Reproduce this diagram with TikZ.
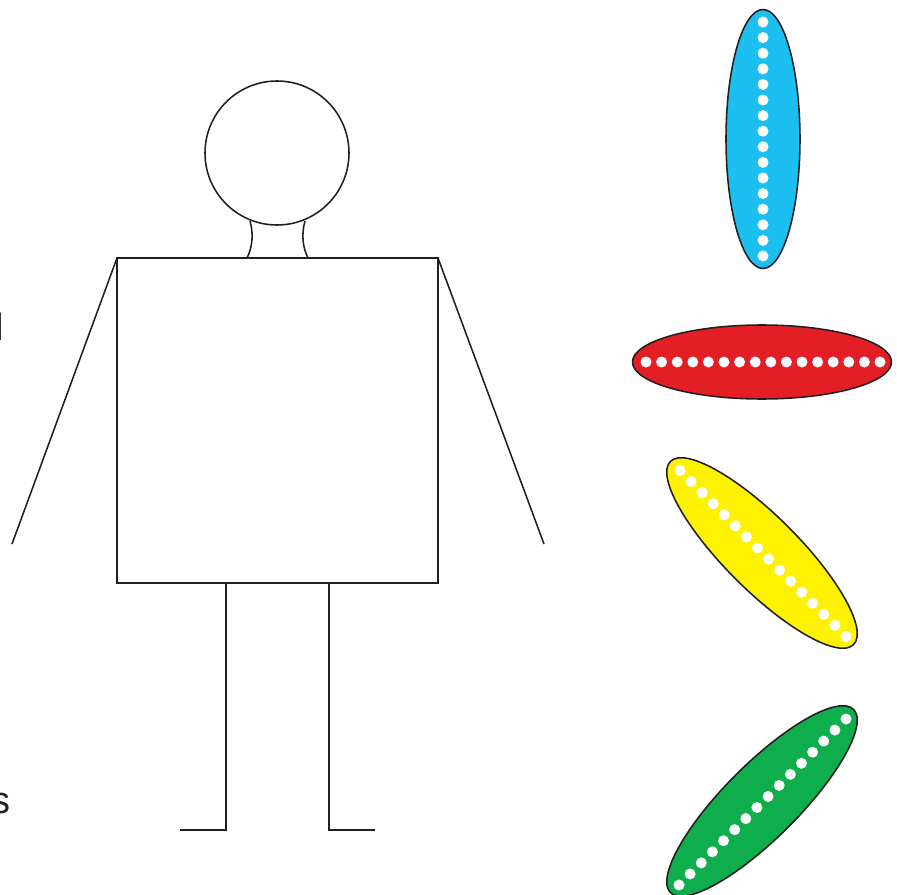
\documentclass[tikz,border=0pt]{standalone}
\usepackage{fontspec}
\setmainfont{Liberation Sans}
\usetikzlibrary{positioning}

\definecolor{podblue}{RGB}{27,191,240}
\definecolor{podred}{RGB}{227,30,36}
\definecolor{podyellow}{RGB}{255,242,0}
\definecolor{podgreen}{RGB}{13,174,75}
\definecolor{inkline}{RGB}{35,31,32}

\begin{document}
\begin{tikzpicture}[
    x=0.025cm, y=-0.025cm,
    figure/.style={draw=inkline, line width=1.1pt},
    pod/.style={draw=inkline, line width=1.1pt},
    seed/.style={fill=white},
    cutoff/.style={inner sep=0pt, font=\fontsize{27}{30}\selectfont, text=inkline}
]
\useasboundingbox (0,0) rectangle (897,895);

% Clipped labels at the left edge
\node[cutoff, anchor=base east] (lbltop) at (4.5,340) {l};
\node[cutoff, anchor=base east] (lblbot) at (11,813) {s};

% Head and neck
\draw[figure] (277,153) circle (72);
\draw[figure] (250,221) .. controls (254,235) and (252,248) .. (247,258);
\draw[figure] (305,221) .. controls (301,235) and (303,248) .. (308,258);

% Body
\draw[figure] (117,258) rectangle (438,583);

% Arms
\draw[figure] (117,258) -- (12,544);
\draw[figure] (438,258) -- (544,544);

% Legs
\draw[figure] (226,583) -- (226,830) -- (180,830);
\draw[figure] (329,583) -- (329,830) -- (375,830);

% Blue pod
\draw[pod, fill=podblue] (763,139) ellipse [x radius=37, y radius=129.5];
\foreach \i in {0,...,15}
    \fill[seed] (763,{22+\i*234/15}) circle (5.5);

% Red pod
\draw[pod, fill=podred] (762,362) ellipse [x radius=129.5, y radius=37];
\foreach \i in {0,...,15}
    \fill[seed] ({646+\i*234/15},362) circle (5.5);

% Yellow pod
\draw[pod, fill=podyellow, rotate around={-45:(762,553)}] (762,553) ellipse [x radius=129.5, y radius=37];
\foreach \i in {0,...,15}
    \fill[seed] ({680+\i*166/15},{470.5+\i*166/15}) circle (5.5);

% Green pod
\draw[pod, fill=podgreen, rotate around={45:(762,801)}] (762,801) ellipse [x radius=129.5, y radius=37];
\foreach \i in {0,...,15}
    \fill[seed] ({679+\i*167/15},{885-\i*166/15}) circle (5.5);

\end{tikzpicture}
\end{document}
